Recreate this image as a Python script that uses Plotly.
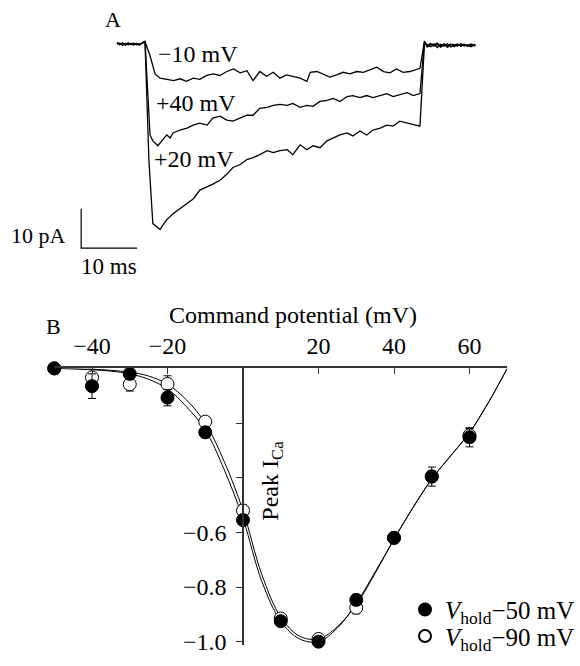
import plotly.graph_objects as go

W, H = 580, 666
FONT = "Liberation Serif, Times New Roman, serif"
FS = 24

# ---------------- Panel A: current traces (time in ms, current in pA) ----------------
PRE_T = [-5.0, -4.5, -4.0, -3.5, -3.0, -2.5, -2.0, -1.5, -1.0, -0.5, 0.0]
PRE_I_M10 = [-0.2, -0.6, -0.1, -0.7, -0.3, -0.5, -0.2, -0.6, -0.4, -0.2, 0.2]
PRE_I_P40 = [-0.4, -0.2, -0.8, -0.3, -0.6, -0.2, -0.7, -0.4, -0.6, -0.3, 0.3]
PRE_I_P20 = [0.0, -0.5, -0.3, -0.5, -0.1, -0.6, -0.4, -0.3, -0.7, -0.1, 0.2]

POST_T = [49.9, 50.4, 51.0, 51.6, 52.2, 52.8, 53.4, 54.0, 54.6, 55.2, 55.8, 56.4, 57.0, 57.6, 58.2, 59.0]
POST_I_M10 = [0.3, -0.8, -0.3, -1.0, -0.5, -1.2, -0.6, -0.9, -0.4, -1.1, -0.6, -0.8, -0.5, -1.0, -0.7, -0.9]
POST_I_P40 = [0.0, -1.2, -0.6, -0.4, -1.3, -0.5, -1.0, -0.3, -1.2, -0.7, -0.4, -1.0, -0.6, -0.9, -0.4, -0.8]
POST_I_P20 = [-0.4, -0.5, -1.1, -0.7, -0.2, -0.9, -0.4, -1.3, -0.6, -0.5, -1.0, -0.3, -0.9, -0.6, -1.1, -0.5]

STEP_T_M10 = [0.9, 1.8, 2.7, 3.9, 5.1, 6.25, 7.4, 8.6, 9.8, 11.0, 12.2, 13.4, 14.6, 15.8, 17.0,
              18.2, 19.3, 20.5, 21.7, 22.9, 24.1, 25.3, 26.5, 27.7, 28.9, 29.5, 30.7, 31.8, 33.0,
              34.2, 35.4, 36.6, 37.8, 39.0, 40.2, 41.4, 42.6, 43.75, 44.9, 46.1, 47.3, 48.5, 49.1]
STEP_I_M10 = [-3.4, -8.0, -9.1, -9.4, -9.7, -9.25, -9.9, -9.1, -9.4, -8.4, -8.0, -8.4, -7.4, -6.75,
              -7.75, -7.2, -9.7, -7.4, -8.6, -7.6, -9.1, -8.25, -8.6, -9.1, -9.9, -7.6, -7.4, -8.0,
              -8.8, -8.25, -7.6, -8.0, -7.4, -7.6, -6.9, -6.3, -7.4, -7.75, -6.75, -7.6, -7.4, -6.75, -6.6]

STEP_T_P40 = [0.9, 1.4, 2.3, 3.0, 3.9, 4.5, 5.0, 6.25, 7.5, 8.6, 9.8, 11.1, 12.1, 13.4, 14.6, 15.7,
              17.0, 18.2, 19.3, 20.5, 21.8, 22.9, 24.1, 25.4, 26.4, 27.7, 28.9, 30.0, 31.25, 32.5,
              33.6, 34.8, 36.1, 37.1, 38.4, 39.6, 40.7, 42.0, 43.2, 44.3, 45.5, 46.8, 47.9, 48.75, 49.1]
STEP_I_P40 = [-23.5, -25, -26.25, -25, -23.5, -24.25, -23, -22.25, -21.75, -21, -20.5, -21, -19.25,
              -18.75, -19.75, -20, -19.25, -18.5, -18.5, -16.75, -16.5, -16, -15.75, -16, -15.5,
              -16.5, -16, -16.25, -15, -14.75, -14.25, -15, -13.75, -13.5, -14, -13.5, -14, -13.5,
              -13, -13.75, -13.25, -12.75, -13.5, -13, -13]

STEP_T_P20 = [0.7, 1.4, 2.1, 2.7, 3.0, 3.9, 5.0, 6.25, 7.5, 8.6, 9.8, 11.1, 12.1, 13.4, 14.6, 15.7,
              17.0, 18.2, 19.3, 20.5, 21.8, 22.9, 24.1, 25.4, 26.4, 27.7, 28.9, 30.0, 31.25, 32.5,
              33.6, 34.8, 36.1, 37.1, 38.4, 39.6, 40.7, 42.0, 43.2, 44.3, 45.5, 46.8, 47.9, 49.1]
STEP_I_P20 = [-30, -46, -46.75, -47.5, -46.75, -45, -43.5, -42.25, -41, -39.75, -37.5, -36.75, -36,
              -35, -33.5, -31.75, -31, -29.75, -29.25, -28.5, -27.5, -28, -27.5, -27.25, -28.5, -26,
              -27.25, -26.25, -26.75, -25, -24.25, -23.5, -23, -23.75, -22.5, -23.5, -22.25, -21.75,
              -21, -21.25, -20, -20.5, -20.75, -21.25]

TRACE_LABELS = ["\u221210 mV", "+40 mV", "+20 mV"]

SCALE_MS = 10
SCALE_PA = 10
SCALE_ORIGIN_T = -11.4
SCALE_ORIGIN_I = -52.25

# ---------------- Panel B: I-V relation ----------------
V_MV = [-50, -40, -30, -20, -10, 0, 10, 20, 30, 40, 50, 60]
I_HOLD50 = [0.0, -0.065, -0.02, -0.107, -0.234, -0.555, -0.925, -1.0, -0.847, -0.62, -0.396, -0.252]
E_HOLD50 = [0.0, 0.045, 0.02, 0.03, 0.02, 0.02, 0.01, 0.01, 0.02, 0.02, 0.035, 0.035]
I_HOLD90 = [0.0, -0.033, -0.058, -0.057, -0.195, -0.52, -0.915, -0.99, -0.876, -0.62, -0.395, -0.245]
E_HOLD90 = [0.0, 0.03, 0.025, 0.03, 0.015, 0.02, 0.01, 0.01, 0.022, 0.02, 0.02, 0.025]

FIT_V = [-50, -45, -40, -35, -30, -25, -20, -15, -10, -5, 0, 5, 10, 15, 20, 25, 30, 35, 40,
         45, 50, 55, 60, 65, 70]
FIT_HOLD50 = [0, -0.002, -0.005, -0.01, -0.02, -0.04, -0.075, -0.14, -0.225, -0.37, -0.55, -0.78,
              -0.925, -0.99, -1.0, -0.95, -0.86, -0.745, -0.625, -0.51, -0.405, -0.32, -0.235,
              -0.125, 0]
FIT_HOLD90 = [0, -0.001, -0.003, -0.007, -0.014, -0.028, -0.058, -0.115, -0.2, -0.34, -0.52,
              -0.755, -0.91, -0.98, -0.99, -0.945, -0.865, -0.75, -0.625, -0.51, -0.405, -0.32,
              -0.235, -0.125, 0]

X_TICKS = [-40, -20, 20, 40, 60]
Y_TICKS = [-0.6, -0.8, -1.0]
Y_MINOR_TICKS = [-0.2, -0.4]
LEGEND_50 = "<i>V</i><sub>hold</sub>\u221250 mV"
LEGEND_90 = "<i>V</i><sub>hold</sub>\u221290 mV"


def fx(px):
    return px / W


def fy(py):
    return 1 - py / H


def minus(v):
    return str(v).replace("-", "\u2212")


fig = go.Figure()

# Panel A traces
for pre_i, st_t, st_i, post_i in [
    (PRE_I_M10, STEP_T_M10, STEP_I_M10, POST_I_M10),
    (PRE_I_P40, STEP_T_P40, STEP_I_P40, POST_I_P40),
    (PRE_I_P20, STEP_T_P20, STEP_I_P20, POST_I_P20),
]:
    fig.add_trace(go.Scatter(
        x=PRE_T + st_t + POST_T, y=pre_i + st_i + post_i,
        mode="lines", line=dict(color="black", width=1.3),
        xaxis="x2", yaxis="y2", showlegend=False, hoverinfo="skip"))

# scale bar
fig.add_trace(go.Scatter(
    x=[SCALE_ORIGIN_T, SCALE_ORIGIN_T, SCALE_ORIGIN_T + SCALE_MS],
    y=[SCALE_ORIGIN_I + SCALE_PA, SCALE_ORIGIN_I, SCALE_ORIGIN_I],
    mode="lines", line=dict(color="black", width=1.2),
    xaxis="x2", yaxis="y2", showlegend=False, hoverinfo="skip"))

# Panel B fits
fig.add_trace(go.Scatter(x=FIT_V, y=FIT_HOLD90, mode="lines", line=dict(color="black", width=1, shape="spline"),
                         showlegend=False, hoverinfo="skip", cliponaxis=False))
fig.add_trace(go.Scatter(x=FIT_V, y=FIT_HOLD50, mode="lines", line=dict(color="black", width=1, shape="spline"),
                         showlegend=False, hoverinfo="skip", cliponaxis=False))

# Panel B markers
fig.add_trace(go.Scatter(
    x=V_MV, y=I_HOLD90, mode="markers", name=LEGEND_90, legend="legend2",
    marker=dict(symbol="circle", size=13, color="white", line=dict(color="black", width=1)),
    error_y=dict(type="data", array=E_HOLD90, color="black", thickness=1, width=4),
    cliponaxis=False))
fig.add_trace(go.Scatter(
    x=V_MV, y=I_HOLD50, mode="markers", name=LEGEND_50, legend="legend",
    marker=dict(symbol="circle", size=13, color="black", line=dict(color="black", width=1)),
    error_y=dict(type="data", array=E_HOLD50, color="black", thickness=1, width=4),
    cliponaxis=False))

axis_col = "#333"
leg_common = dict(xanchor="left", yanchor="middle", bgcolor="rgba(0,0,0,0)",
                  font=dict(family=FONT, size=25), itemsizing="constant")

fig.update_layout(
    width=W, height=H,
    margin=dict(l=0, r=0, t=0, b=0),
    paper_bgcolor="white", plot_bgcolor="white",
    font=dict(family=FONT, size=FS, color="black"),
    xaxis=dict(domain=[fx(54.25), fx(507.25)], range=[-50, 70], side="top", anchor="y",
               showline=True, linecolor=axis_col, linewidth=1.5, ticks="inside", ticklen=6,
               tickwidth=1.2, tickcolor=axis_col, tickvals=X_TICKS,
               ticktext=[minus(v) for v in X_TICKS],
               showgrid=False, zeroline=False, ticklabelstandoff=3,
               tickfont=dict(family=FONT, size=FS)),
    yaxis=dict(domain=[fy(654.8), fy(374)], range=[-1.012, 0], anchor="free", position=fx(243),
               showline=True, linecolor=axis_col, linewidth=1.5, ticks="outside", ticklen=6,
               tickwidth=1.2, tickcolor=axis_col, tickvals=Y_TICKS,
               ticktext=[minus(f"{v:.1f}") for v in Y_TICKS],
               minor=dict(tickvals=Y_MINOR_TICKS, ticks="outside", ticklen=6, tickwidth=1.2,
                          tickcolor=axis_col, showgrid=False),
               showgrid=False, zeroline=False, ticklabelstandoff=5,
               tickfont=dict(family=FONT, size=FS)),
    xaxis2=dict(domain=[fx(72.2), fx(492.2)], range=[-13, 62], visible=False, anchor="y2"),
    yaxis2=dict(domain=[fy(283), fy(11)], range=[-60, 8], visible=False, anchor="x2"),
    legend=dict(x=fx(405), y=fy(619), **leg_common),
    legend2=dict(x=fx(405), y=fy(646), **leg_common),
    showlegend=True,
)

ann = [
    dict(text="A", x=fx(113), y=fy(20), size=22),
    dict(text="B", x=fx(53), y=fy(331), size=22),
    dict(text=TRACE_LABELS[0], x=fx(156), y=fy(55), xanchor="left"),
    dict(text=TRACE_LABELS[1], x=fx(154), y=fy(105), xanchor="left"),
    dict(text=TRACE_LABELS[2], x=fx(152), y=fy(161), xanchor="left"),
    dict(text=f"{SCALE_PA} pA", x=fx(68), y=fy(239), xanchor="right", size=22),
    dict(text=f"{SCALE_MS} ms", x=fx(109), y=fy(271), size=23),
    dict(text="Command potential (mV)", x=fx(293), y=fy(320), size=24),
    dict(text="Peak I<sub>Ca</sub>", x=fx(272), y=fy(488), textangle=-90, size=24),
]
for a in ann:
    a.setdefault("xanchor", "center")
    size = a.pop("size", FS)
    fig.add_annotation(xref="paper", yref="paper", showarrow=False, yanchor="middle",
                       font=dict(family=FONT, size=size, color="black"), **a)

fig.write_html("out.html")
